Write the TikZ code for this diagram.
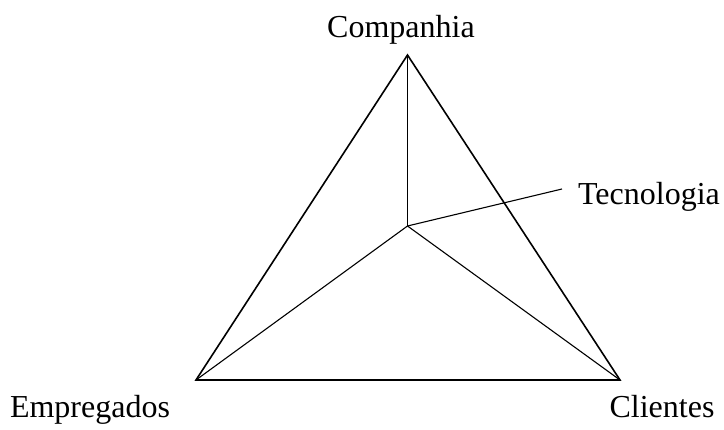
\documentclass[tikz,border=0pt]{standalone}
\usepackage{fontspec}
\setmainfont{Liberation Serif}
\begin{document}
\begin{tikzpicture}[x=1pt,y=-1pt,
  edge/.style={line width=1.6pt,line join=miter},
  spoke/.style={line width=1.1pt},
  lbl/.style={inner sep=0pt,anchor=base,font=\fontsize{32}{38}\selectfont}]
\useasboundingbox (0,0) rectangle (724,430);
\coordinate (T) at (407.5,55);
\coordinate (L) at (196,380);
\coordinate (R) at (620,380);
\coordinate (C) at (407.5,226);
\coordinate (E) at (562,189);
\draw[edge] (T) -- (L) -- (R) -- cycle;
\draw[spoke] (C) -- (T);
\draw[spoke] (C) -- (L);
\draw[spoke] (C) -- (R);
\draw[spoke] (C) -- (E);
\node[lbl] (comp) at (401,38) {Companhia};
\node[lbl] (tec) at (649,205) {Tecnologia};
\node[lbl] (emp) at (90,418) {Empregados};
\node[lbl] (cli) at (662,418) {Clientes};
\end{tikzpicture}
\end{document}
